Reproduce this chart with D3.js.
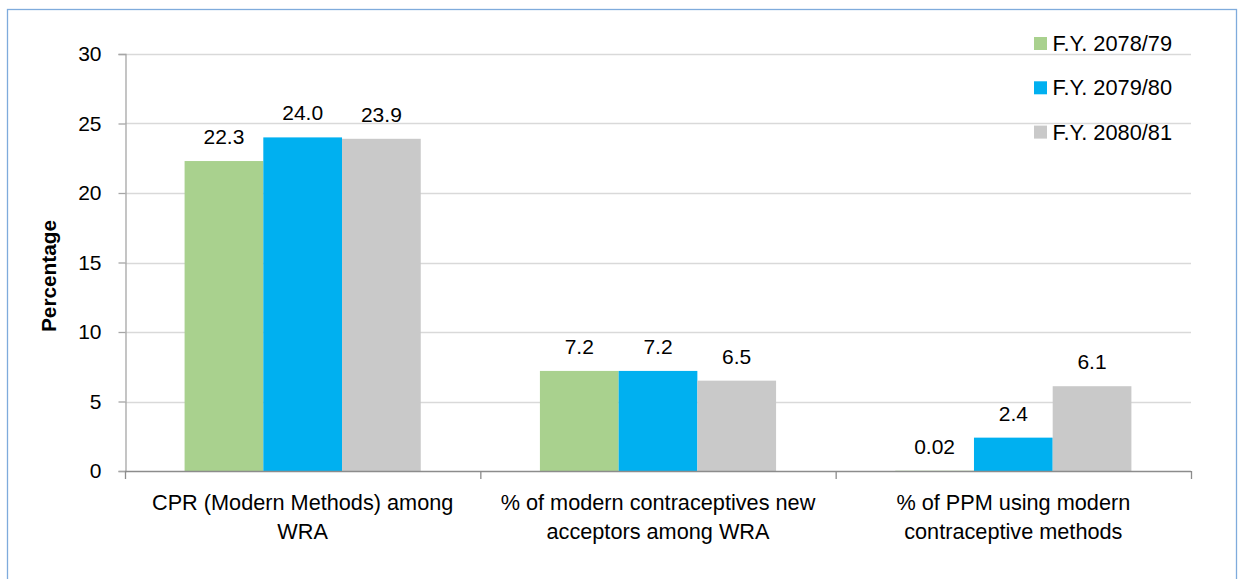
<!DOCTYPE html>
<html>
<head>
<meta charset="utf-8">
<script src="https://cdn.jsdelivr.net/npm/d3@7/dist/d3.min.js"></script>
<style>
  html, body { margin: 0; padding: 0; background: #fff; }
  svg { display: block; }
  text { font-family: "Liberation Sans", Arial, sans-serif; fill: #000; }
</style>
</head>
<body>
<svg id="chart" width="1243" height="579"></svg>
<script>
// Indicator categories (each label split into two lines)
const categories = [
  ["CPR (Modern Methods) among", "WRA"],
  ["% of modern contraceptives new", "acceptors among WRA"],
  ["% of PPM using modern", "contraceptive methods"]
];
const seriesNames = ["F.Y. 2078/79", "F.Y. 2079/80", "F.Y. 2080/81"];
const seriesColors = ["#a9d18e", "#00b0f0", "#c9c9c9"];
const values2078 = [22.3, 7.2, 0.02];
const values2079 = [24.0, 7.2, 2.4];
const values2080 = [23.9, 6.5, 6.1];
const valueLabels2078 = ["22.3", "7.2", "0.02"];
const valueLabels2079 = ["24.0", "7.2", "2.4"];
const valueLabels2080 = ["23.9", "6.5", "6.1"];
const yTicks = [0, 5, 10, 15, 20, 25, 30];

const seriesValues = [values2078, values2079, values2080];
const seriesLabels = [valueLabels2078, valueLabels2079, valueLabels2080];

const svg = d3.select("#chart");

// Chart frame
svg.append("rect")
  .attr("x", 7.5).attr("y", 9.5)
  .attr("width", 1229).attr("height", 600)
  .attr("fill", "#fff")
  .attr("stroke", "#7fabdc").attr("stroke-width", 1.3);

const plot = { left: 125, right: 1191, top: 54, bottom: 471 };

const x = d3.scaleBand()
  .domain(d3.range(categories.length))
  .range([plot.left, plot.right])
  .paddingInner(0).paddingOuter(0);

const xs = d3.scaleBand()
  .domain(d3.range(seriesNames.length))
  .range([0, x.bandwidth()])
  .paddingInner(0).paddingOuter(0.757);

const y = d3.scaleLinear().domain([0, 30]).range([plot.bottom, plot.top]);

// Horizontal gridlines
svg.append("g")
  .selectAll("line")
  .data(yTicks.filter(d => d > 0))
  .join("line")
  .attr("x1", plot.left).attr("x2", plot.right)
  .attr("y1", d => Math.round(y(d)) + 0.5).attr("y2", d => Math.round(y(d)) + 0.5)
  .attr("stroke", "#d9d9d9").attr("stroke-width", 1.3);

// Bars
const groups = svg.append("g")
  .selectAll("g")
  .data(seriesValues)
  .join("g")
  .attr("fill", (d, i) => seriesColors[i]);

groups.each(function (vals, si) {
  d3.select(this).selectAll("rect")
    .data(vals)
    .join("rect")
    .attr("x", (d, ci) => x(ci) + xs(si))
    .attr("width", xs.bandwidth())
    .attr("y", d => y(d))
    .attr("height", d => y(0) - y(d));
});

// Value labels
seriesValues.forEach((vals, si) => {
  svg.append("g")
    .selectAll("text")
    .data(vals)
    .join("text")
    .attr("x", (d, ci) => x(ci) + xs(si) + xs.bandwidth() / 2)
    .attr("y", d => y(d) - 17)
    .attr("text-anchor", "middle")
    .attr("font-size", 21)
    .text((d, ci) => seriesLabels[si][ci]);
});

// Y axis
const yAxis = svg.append("g")
  .attr("transform", `translate(${plot.left + 0.5},0)`)
  .call(d3.axisLeft(y).tickValues(yTicks).tickSize(7).tickPadding(17).tickFormat(d3.format("d")));
yAxis.select(".domain").attr("stroke", "#a6a6a6").attr("stroke-width", 1.3);
yAxis.selectAll(".tick line").attr("stroke", "#a6a6a6").attr("stroke-width", 1.3);
yAxis.selectAll(".tick text")
  .attr("font-size", 21)
  .attr("font-family", "Liberation Sans, Arial, sans-serif")
  .attr("fill", "#000");

// X axis baseline and category separators
const xAxisG = svg.append("g");
xAxisG.append("line")
  .attr("x1", plot.left).attr("x2", plot.right)
  .attr("y1", plot.bottom + 0.5).attr("y2", plot.bottom + 0.5)
  .attr("stroke", "#8c8c8c").attr("stroke-width", 1.3);
xAxisG.selectAll("line.sep")
  .data(d3.range(categories.length + 1))
  .join("line")
  .attr("class", "sep")
  .attr("x1", i => (i < categories.length ? x(i) : plot.right) + 0.5)
  .attr("x2", i => (i < categories.length ? x(i) : plot.right) + 0.5)
  .attr("y1", plot.bottom).attr("y2", plot.bottom + 8)
  .attr("stroke", "#8c8c8c").attr("stroke-width", 1.3);

// Category labels
const catText = svg.append("g")
  .selectAll("text")
  .data(categories)
  .join("text")
  .attr("text-anchor", "middle")
  .attr("font-size", 21.7)
  .attr("x", (d, i) => x(i) + x.bandwidth() / 2)
  .attr("y", 510);
catText.selectAll("tspan")
  .data(d => d)
  .join("tspan")
  .attr("x", function () { return d3.select(this.parentNode).attr("x"); })
  .attr("dy", (d, i) => i === 0 ? 0 : 29)
  .text(d => d);

// Y axis title
svg.append("text")
  .attr("transform", "translate(56,276) rotate(-90)")
  .attr("text-anchor", "middle")
  .attr("font-size", 20.8)
  .attr("font-weight", "bold")
  .text("Percentage");

// Legend
const legend = svg.append("g")
  .selectAll("g")
  .data(seriesNames)
  .join("g")
  .attr("transform", (d, i) => `translate(1034,${43.5 + i * 44.3})`);
legend.append("rect")
  .attr("x", 0).attr("y", -6.5)
  .attr("width", 13).attr("height", 13)
  .attr("fill", (d, i) => seriesColors[i]);
legend.append("text")
  .attr("x", 18.5).attr("y", 7.5)
  .attr("font-size", 21.8)
  .text(d => d);
</script>
</body>
</html>
